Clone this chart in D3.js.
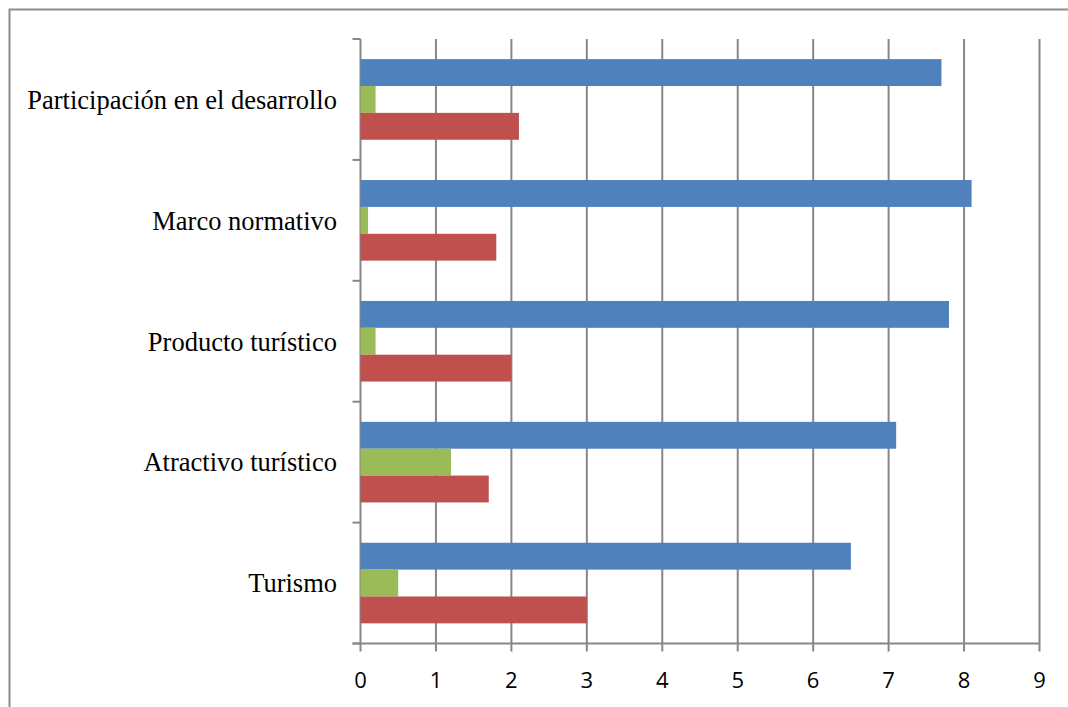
<!DOCTYPE html>
<html>
<head>
<meta charset="utf-8">
<script src="https://cdn.jsdelivr.net/npm/d3@7"></script>
<style>
  body { margin: 0; background: #fff; }
  .grid line { stroke: #878787; stroke-width: 2; }
  .cat { font-family: "Liberation Serif", "Times New Roman", serif; font-size: 26.5px; fill: #000; }
  .tick-x { font-family: "Open Sans", "Liberation Sans", sans-serif; font-size: 22px; fill: #000; }
</style>
</head>
<body>
<script>
var categories = ["Participación en el desarrollo", "Marco normativo", "Producto turístico", "Atractivo turístico", "Turismo"];
var seriesNames = ["azul", "verde", "rojo"];
var blueValues = [7.7, 8.1, 7.8, 7.1, 6.5];
var greenValues = [0.2, 0.1, 0.2, 1.2, 0.5];
var redValues = [2.1, 1.8, 2.0, 1.7, 3.0];
var xTicks = [0, 1, 2, 3, 4, 5, 6, 7, 8, 9];
var colors = ["#4F81BD", "#9BBB59", "#C0504D"];

var W = 1068, H = 707;
var m = { left: 360.5, right: 1039.5, top: 39, bottom: 643.5 };

var svg = d3.select("body").append("svg")
    .attr("width", W)
    .attr("height", H);

// outer frame
svg.append("rect")
    .attr("x", 9.5).attr("y", 9.5)
    .attr("width", W).attr("height", H)
    .attr("fill", "none")
    .attr("stroke", "#8c8c8c")
    .attr("stroke-width", 2);

var x = d3.scaleLinear().domain([0, 9]).range([m.left, m.right]);
var y = d3.scaleBand().domain(categories).range([m.top, m.bottom]);
var inner = d3.scaleBand().domain(seriesNames)
    .range([y.bandwidth() / 6, y.bandwidth() * 5 / 6]);

// vertical gridlines
var grid = svg.append("g").attr("class", "grid");
grid.selectAll("line.v")
    .data(xTicks)
    .enter()
    .append("line")
    .attr("x1", function (d) { return x(d); })
    .attr("x2", function (d) { return x(d); })
    .attr("y1", m.top)
    .attr("y2", m.bottom + 8);

// x axis baseline
grid.append("line")
    .attr("x1", m.left - 8).attr("x2", m.right)
    .attr("y1", m.bottom).attr("y2", m.bottom);

// y tick marks at band edges
var edges = categories.map(function (c) { return y(c); }).concat([m.bottom]);
grid.selectAll("line.yt")
    .data(edges)
    .enter()
    .append("line")
    .attr("x1", m.left - 8).attr("x2", m.left)
    .attr("y1", function (d) { return d; })
    .attr("y2", function (d) { return d; });

// bars
var allSeries = [blueValues, greenValues, redValues];
allSeries.forEach(function (vals, si) {
    svg.selectAll("rect.s" + si)
        .data(vals)
        .enter()
        .append("rect")
        .attr("class", "s" + si)
        .attr("x", x(0))
        .attr("y", function (d, i) { return y(categories[i]) + inner(seriesNames[si]); })
        .attr("width", function (d) { return x(d) - x(0); })
        .attr("height", inner.bandwidth())
        .attr("fill", colors[si]);
});

// category labels
svg.selectAll("text.cat")
    .data(categories)
    .enter()
    .append("text")
    .attr("class", "cat")
    .attr("x", 337)
    .attr("y", function (d) { return y(d) + y.bandwidth() / 2; })
    .attr("dy", "0.35em")
    .attr("text-anchor", "end")
    .text(function (d) { return d; });

// x tick labels
svg.selectAll("text.tick-x")
    .data(xTicks)
    .enter()
    .append("text")
    .attr("class", "tick-x")
    .attr("x", function (d) { return x(d); })
    .attr("y", 680)
    .attr("dy", "0.35em")
    .attr("text-anchor", "middle")
    .text(function (d) { return d; });
</script>
</body>
</html>
